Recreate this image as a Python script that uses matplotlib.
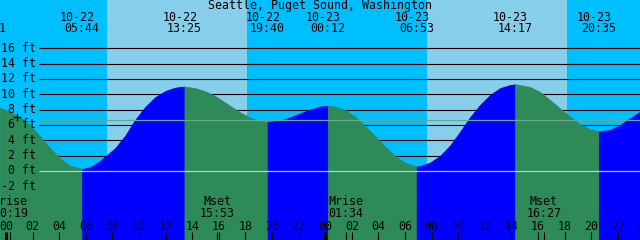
#%% IMPORTS                    ~~~~~~~~~~~~~~~~~~~~~~~~~~~~~~~~~~~~~~~~~~~~
import matplotlib
matplotlib.use('Agg')
import matplotlib.pyplot as plt

#%% DATA                       ~~~~~~~~~~~~~~~~~~~~~~~~~~~~~~~~~~~~~~~~~~~~
# hours after 10-22 00:00, tide height in feet
tide_hours = [-0.45, 0.30, 1.05, 1.80, 2.56, 3.31, 4.06, 4.81, 5.73, 6.32,
              7.07, 7.44, 8.20, 8.95, 9.70, 10.45, 11.20, 11.95, 12.71, 13.42,
              14.21, 14.96, 15.34, 15.71, 16.09, 16.84, 17.59, 18.35, 19.10, 19.67,
              20.60, 21.35, 22.11, 22.86, 23.61, 24.20, 24.74, 25.49, 26.24, 26.99,
              27.74, 28.50, 29.25, 30.00, 30.75, 30.88, 31.13, 31.88, 32.63, 33.38,
              34.14, 34.89, 35.64, 36.39, 37.14, 37.89, 38.28, 39.40, 40.15, 40.90,
              41.65, 42.41, 43.16, 43.91, 44.58, 45.41, 46.17, 46.92, 47.67]
tide_ft = [8.25, 7.7, 7.0, 6.0, 4.5, 2.96, 1.65, 0.7, 0.26, 0.48,
           1.3, 1.87, 2.96, 4.56, 6.65, 8.3, 9.6, 10.4, 10.86, 11.0,
           10.8, 10.4, 10.1, 9.8, 9.35, 8.5, 7.65, 6.95, 6.5, 6.4,
           6.56, 7.0, 7.5, 8.0, 8.4, 8.5, 8.4, 7.95, 7.1, 5.9,
           4.56, 3.17, 1.96, 1.08, 0.65, 0.56, 0.65, 1.08, 1.96, 3.3,
           5.1, 7.0, 8.6, 9.9, 10.8, 11.2, 11.3, 10.95, 10.3, 9.26,
           8.17, 7.1, 6.1, 5.43, 5.17, 5.35, 6.0, 6.87, 7.73]

hilo_hours = [-1.32, 5.73, 13.42, 19.67, 24.20, 30.88, 38.28, 44.58]
hilo_dates = ['10-21', '10-22', '10-22', '10-22', '10-23', '10-23', '10-23', '10-23']
hilo_times = ['22:41', '05:44', '13:25', '19:40', '00:12', '06:53', '14:17', '20:35']

sun_hours = [7.59, 18.12, 31.63, 42.16]   # rise, set, rise, set

moon_hours = [0.32, 15.88, 25.57, 40.45]
moon_names = ['Mrise', 'Mset', 'Mrise', 'Mset']
moon_times = ['00:19', '15:53', '01:34', '16:27']

level_ft = [-2, 0, 2, 4, 6, 8, 10, 12, 14, 16]
msl_ft = 6.6
now_hour, now_ft = 0.79, 7.1

title = 'Seattle, Puget Sound, Washington'

#%% STYLE                      ~~~~~~~~~~~~~~~~~~~~~~~~~~~~~~~~~~~~~~~~~~~~
NIGHT = '#00BFFF'
DAY = '#87CEEB'
FLOOD = '#0000FF'
EBB = '#2E8B57'
DATUM = '#A0D8EC'
MSL = '#6AA88C'
FONT = dict(family='DejaVu Sans Mono', size=8.4, color='black')

W, H = 640, 240
X0, PX_PER_HOUR = 6, 13.3      # pixel x of 10-22 00:00
Y0, PX_PER_FT = 171, 7.67      # pixel y of 0 ft


def hx(px):
    return (px - X0) / PX_PER_HOUR


def fy(py):
    return (Y0 - py) / PX_PER_FT


#%% PLOT                       ~~~~~~~~~~~~~~~~~~~~~~~~~~~~~~~~~~~~~~~~~~~~
fig = plt.figure(figsize=(6.4, 2.4), dpi=100)
fig.patch.set_facecolor(NIGHT)
ax = fig.add_axes([0, 0, 1, 1])
ax.set_xlim(hx(0), hx(W))
ax.set_ylim(fy(H), fy(0))
ax.axis('off')

# daylight bands
for rise, sset in zip(sun_hours[0::2], sun_hours[1::2]):
    ax.axvspan(rise, sset, color=DAY, lw=0, zorder=0)

# feet grid, hidden by the water
ax.hlines(level_ft, hx(39), hx(W), colors='black', lw=0.8, zorder=1)

# water: flood blue, ebb green, split at highs/lows
bounds = [tide_hours[0]] + [h for h in hilo_hours if h > tide_hours[0]] + [tide_hours[-1]]
for a, b in zip(bounds[:-1], bounds[1:]):
    ts = [t for t in tide_hours if a <= t <= b]
    hs = [f for t, f in zip(tide_hours, tide_ft) if a <= t <= b]
    col = FLOOD if hs[-1] > hs[0] else EBB
    ax.fill_between(ts, hs, fy(H) - 2, color=col, lw=0.6, zorder=2)

ax.hlines(0, hx(39), hx(W), colors=DATUM, lw=0.9, zorder=3)
ax.hlines(msl_ft, hx(39), hx(W), colors=MSL, lw=0.9, zorder=3)
ax.plot([now_hour], [now_ft], marker='+', ms=6, mew=0.9, color='black', zorder=4)

# texts
ax.text(hx(320), fy(6), title, ha='center', va='center', zorder=5, **FONT)
for h, d, t in zip(hilo_hours, hilo_dates, hilo_times):
    ax.text(h - 0.35, fy(17.5), d, ha='center', va='center', zorder=5, **FONT)
    ax.text(h, fy(29), t, ha='center', va='center', zorder=5, **FONT)

for lv in level_ft:
    ax.text(hx(36), lv, f'{lv} ft', ha='right', va='center', zorder=5, **FONT)

for h, n, t in zip(moon_hours, moon_names, moon_times):
    ax.text(h, fy(201.5), n, ha='center', va='center', zorder=5, **FONT)
    ax.text(h, fy(213.5), t, ha='center', va='center', zorder=5, **FONT)
    ax.vlines(h, fy(240), fy(232), colors='black', lw=0.8, zorder=5)

for h in range(0, 50, 2):
    ax.text(h, fy(226), f'{h % 24:02d}', ha='center', va='center', zorder=5, **FONT)
    lw = 2.2 if h % 24 == 0 else 0.8
    ax.vlines(h, fy(240), fy(232), colors='black', lw=lw, zorder=5)

fig.savefig('out.png', dpi=100, facecolor=NIGHT)
